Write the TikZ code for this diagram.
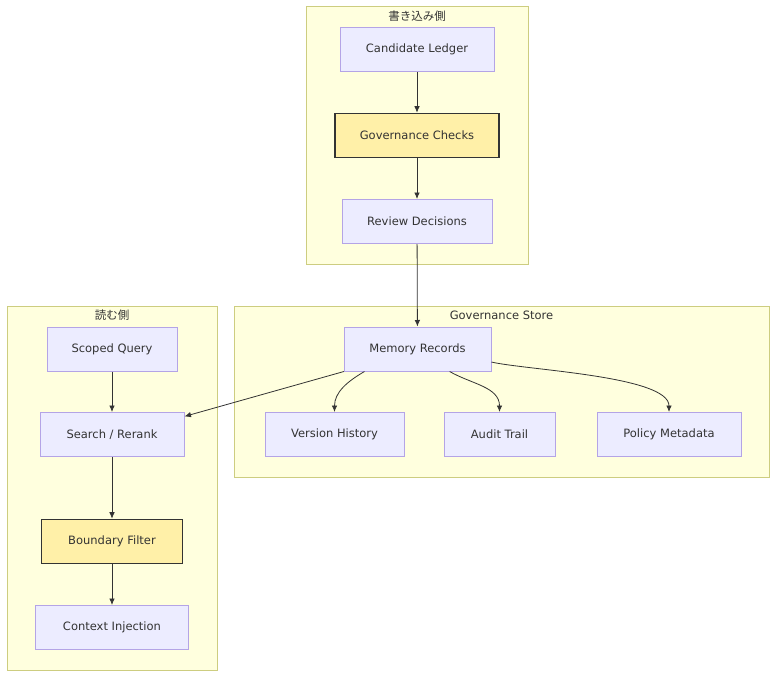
\documentclass[tikz,border=0pt]{standalone}
\usepackage{fontspec}
\setmainfont{DejaVu Sans}
\newfontfamily\jpfont{Noto Sans CJK JP}
\usetikzlibrary{arrows.meta,positioning}
\definecolor{nodefill}{HTML}{ECECFF}
\definecolor{nodeline}{HTML}{B4A4E6}
\definecolor{groupfill}{HTML}{FFFFDE}
\definecolor{groupline}{HTML}{CDCD80}
\definecolor{gatefill}{HTML}{FFF0A8}
\definecolor{ink}{HTML}{333333}

\begin{document}
\begin{tikzpicture}[
 x=1pt, y=-1pt, >={Latex[length=6.5pt,width=5.5pt]},
 font=\fontsize{11.5}{13}\selectfont, text=ink,
 box/.style={draw=nodeline, fill=nodefill, line width=1pt, minimum height=44pt, inner sep=2pt},
 gate/.style={box, draw=ink, fill=gatefill, line width=1.6pt},
 group/.style={draw=groupline, fill=groupfill, line width=1pt, inner sep=0pt},
 title/.style={inner sep=1pt},
 every edge/.style={draw=ink, ->, line width=0.8pt}]
\useasboundingbox (0,0) rectangle (784,685);
% groups
\node[group, minimum width=222pt, minimum height=257pt] (writeside) at (417,135.5) {};
\node[title] (writetitle) at (417,16) {\jpfont 書き込み側};
\node[group, minimum width=210pt, minimum height=364pt] (readside) at (112,488) {};
\node[title] (readtitle) at (112,315) {\jpfont 読む側};
\node[group, minimum width=535pt, minimum height=171pt] (store) at (501.5,391.5) {};
\node[title] (storetitle) at (501.5,315) {Governance Store};
% write side
\node[box, minimum width=154pt] (ledger) at (417,49.5) {Candidate Ledger};
\node[gate, minimum width=164pt] (checks) at (417,135.5) {Governance Checks};
\node[box, minimum width=150pt] (review) at (417,221.5) {Review Decisions};
% store
\node[box, minimum width=147pt] (mem) at (417.5,349) {Memory Records};
\node[box, minimum width=139pt] (version) at (334.5,434.5) {Version History};
\node[box, minimum width=111pt] (audit) at (499.5,434.5) {Audit Trail};
\node[box, minimum width=144pt] (policy) at (669,434.5) {Policy Metadata};
% read side
\node[box, minimum width=130pt] (query) at (112,349) {Scoped Query};
\node[box, minimum width=144pt] (search) at (112,434.5) {Search / Rerank};
\node[gate, minimum width=141pt] (filter) at (112,541.5) {Boundary Filter};
\node[box, minimum width=153pt] (inject) at (112,627.5) {Context Injection};
% edges
\draw (ledger) edge (checks) (checks) edge (review) (review) edge (mem);
\draw (query) edge (search) (search) edge (filter) (filter) edge (inject);
\draw (mem.197) edge (search.14);
\draw (mem.203) edge[out=210, in=90] (version.north);
\draw (mem.325) edge[out=-30, in=90] (audit.north);
\draw (mem.350) edge[out=-13, in=90, looseness=0.5] (policy.north);
\end{tikzpicture}
\end{document}
